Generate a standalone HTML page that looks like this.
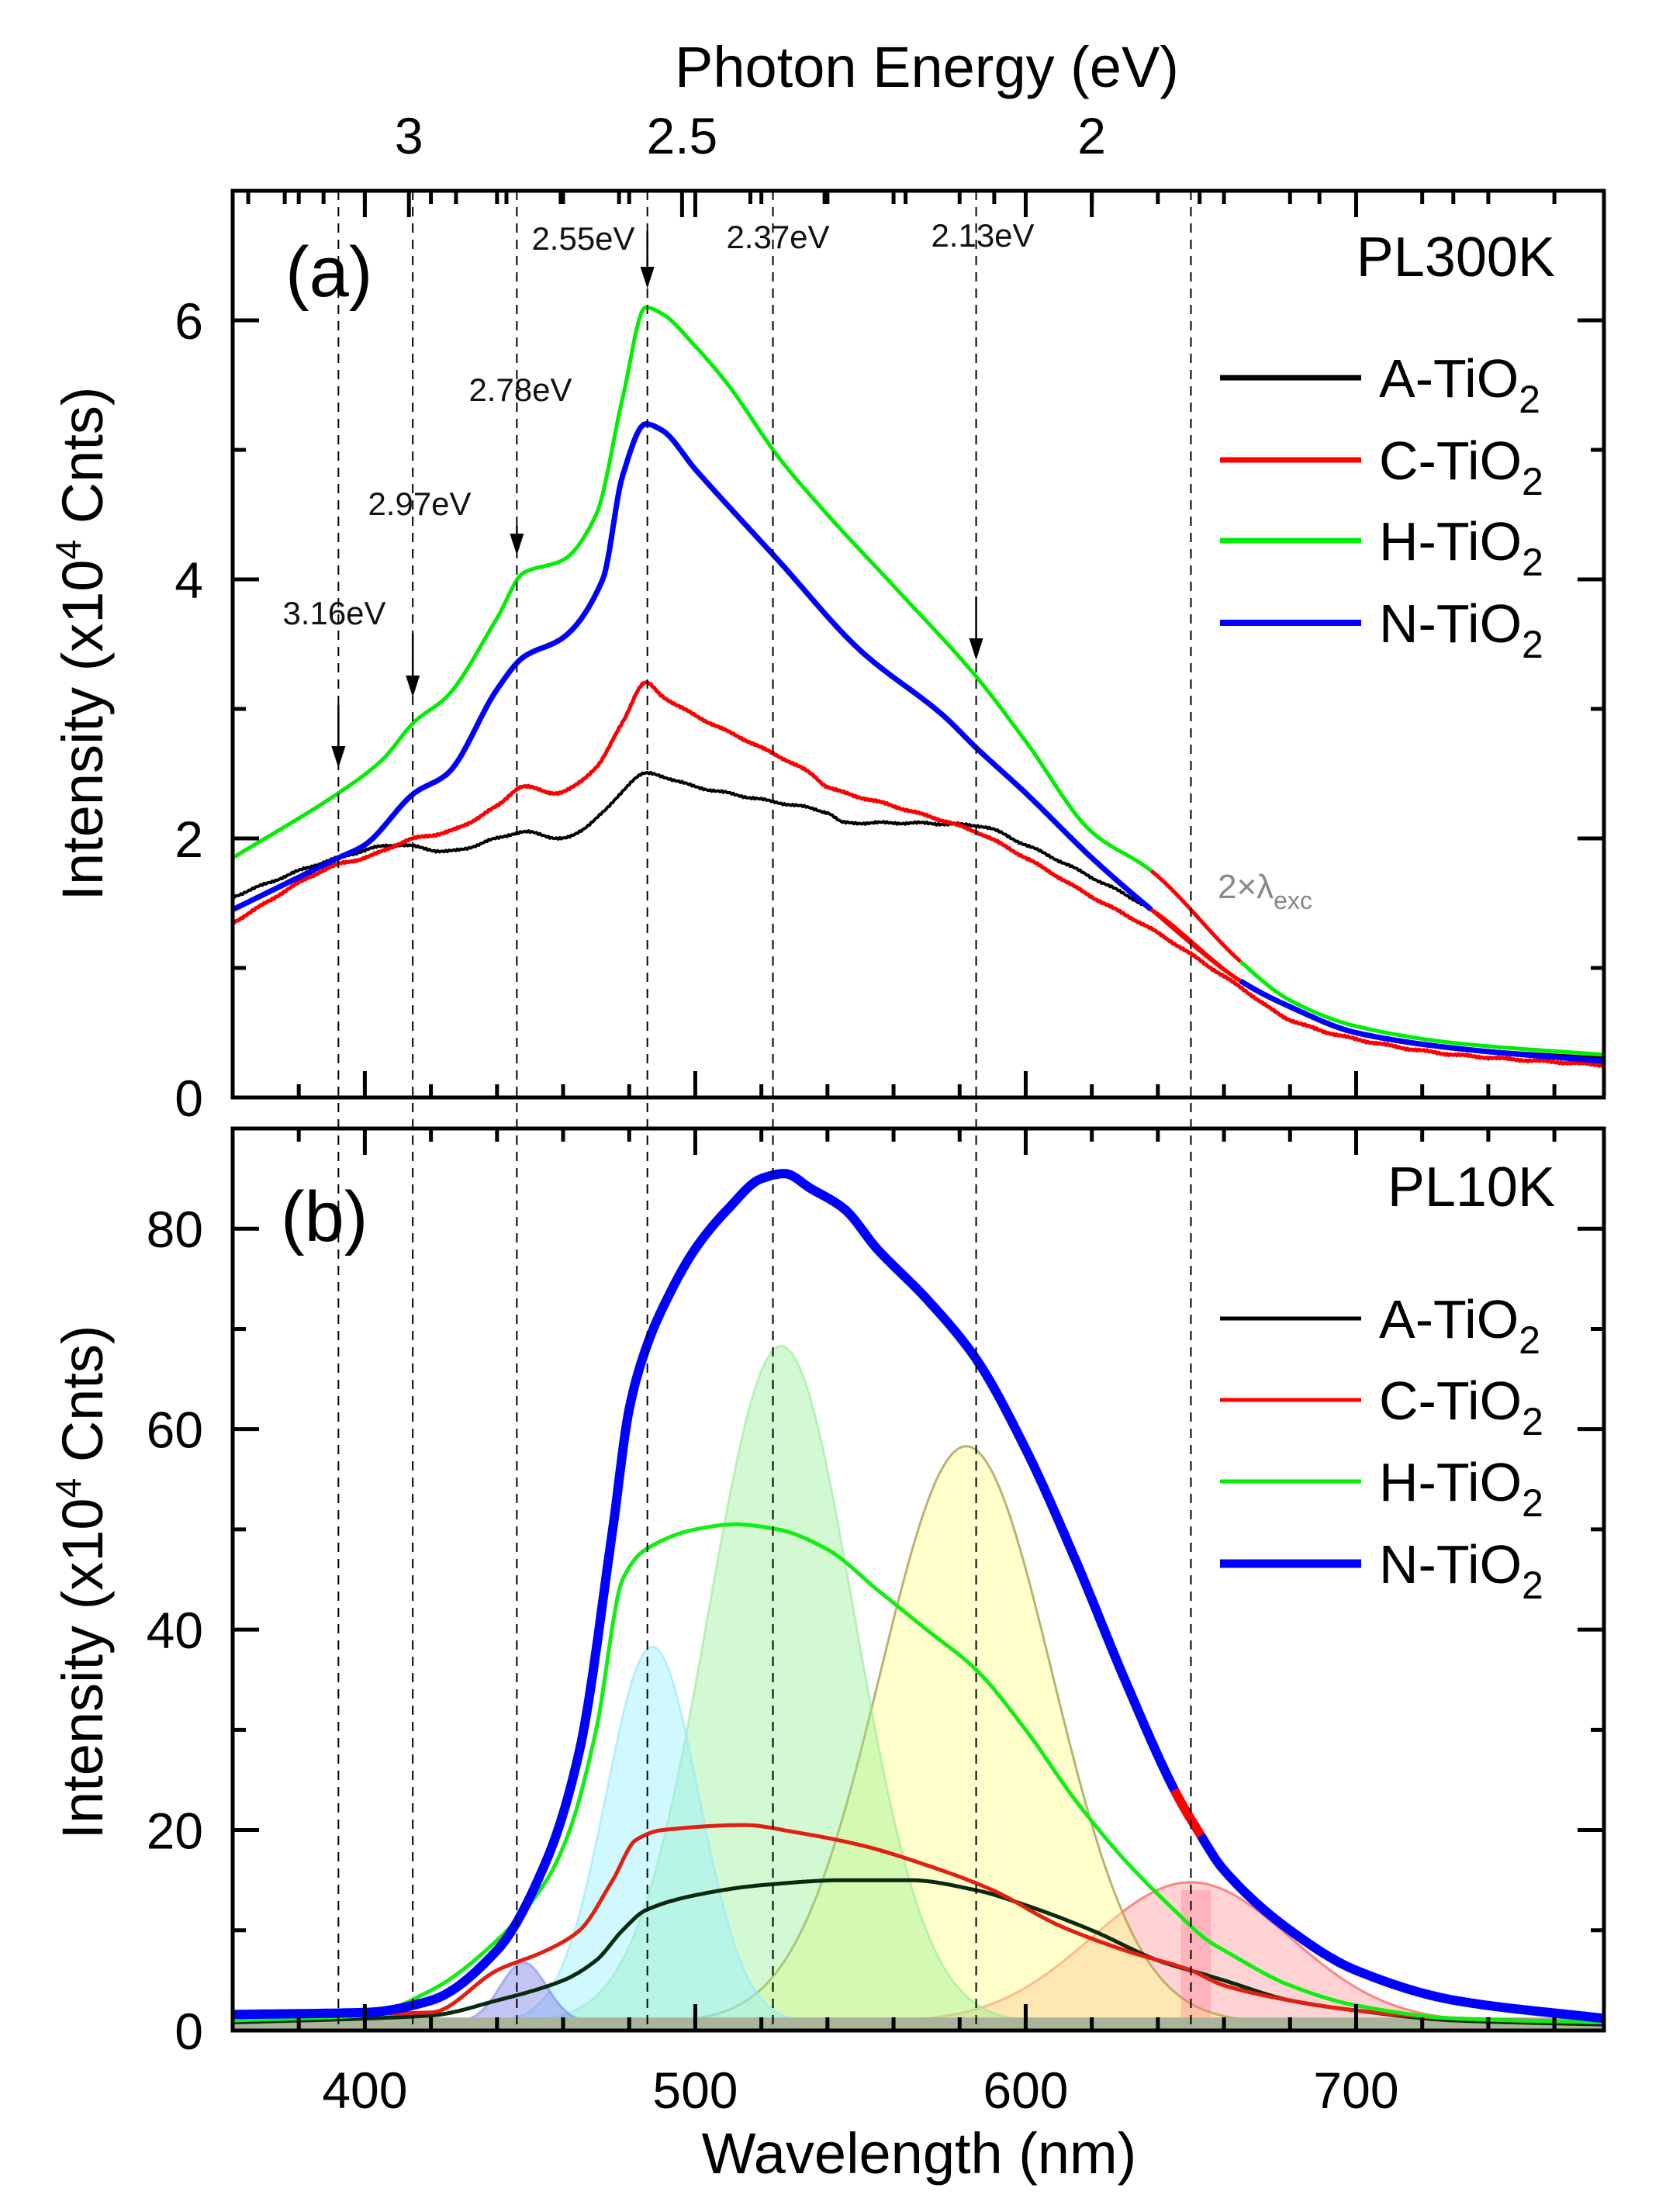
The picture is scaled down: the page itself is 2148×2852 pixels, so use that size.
<!DOCTYPE html>
<html><head><meta charset="utf-8"><style>
html,body{margin:0;padding:0;background:#fff}
svg{display:block}
text{font-family:"Liberation Sans",Arial,sans-serif}
</style></head><body>
<svg id="s" width="2148" height="2852" viewBox="0 0 2148 2852" xmlns="http://www.w3.org/2000/svg">
<rect width="2148" height="2852" fill="#fff"/>
<g id="g"></g>
</svg>
<script>
const NS="http://www.w3.org/2000/svg";
const g=document.getElementById('g');
function el(t,a,txt){const e=document.createElementNS(NS,t);for(const k in a)e.setAttribute(k,a[k]);if(txt!==undefined)e.textContent=txt;g.appendChild(e);return e;}
const XL=300,XR=2068;
const X=w=>XL+(w-360)*(XR-XL)/(775-360);
const AT=246,AB=1415,Ya=v=>AB-v*(AB-AT)/7;
const BT=1455,BB=2618,Yb=v=>BB-v*(BB-BT)/90;

function slope(p,i){const n=p.length;if(i===0)return (p[1][1]-p[0][1])/(p[1][0]-p[0][0]);if(i===n-1)return (p[n-1][1]-p[n-2][1])/(p[n-1][0]-p[n-2][0]);
const a=(p[i][1]-p[i-1][1])/(p[i][0]-p[i-1][0]),b=(p[i+1][1]-p[i][1])/(p[i+1][0]-p[i][0]);if(a*b<=0)return 0;return 2/(1/a+1/b);}
function interp(p,w){for(let i=0;i<p.length-1;i++){if(w>=p[i][0]&&w<=p[i+1][0]){const h=p[i+1][0]-p[i][0],t=(w-p[i][0])/h;const m0=slope(p,i)*h,m1=slope(p,i+1)*h;const t2=t*t,t3=t2*t;
return (2*t3-3*t2+1)*p[i][1]+(t3-2*t2+t)*m0+(-2*t3+3*t2)*p[i+1][1]+(t3-t2)*m1;}}return p[p.length-1][1];}
function curve(pts,Y,w0,w1,col,sw,noise){let d='';for(let w=w0;w<=w1+1e-9;w+=0.5){let v=interp(pts,w);if(noise)v+=(Math.sin(w*7.3)+Math.sin(w*13.1))*noise;d+=(d?'L':'M')+X(w).toFixed(1)+','+Y(v).toFixed(1);}el('path',{d:d,fill:'none',stroke:col,'stroke-width':sw,'stroke-linejoin':'round'});}

function gauss(c,a,s,fill,stroke){let d='M'+X(360)+','+Yb(0.8);for(let w=360;w<=775;w+=1){const v=0.8+a*Math.exp(-((w-c)**2)/(2*s*s));d+='L'+X(w).toFixed(1)+','+Yb(v).toFixed(1);}d+='L'+X(775)+','+Yb(0.8)+'Z';el('path',{d:d,fill:fill,stroke:stroke||'none','stroke-width':3});}
gauss(650,14,30,'rgba(255,130,130,0.35)','rgba(255,90,90,0.7)');
gauss(582,57.5,26,'rgba(255,255,140,0.45)','rgba(180,170,100,0.9)');
gauss(526,67.5,22,'rgba(140,240,140,0.38)','rgba(150,235,150,0.6)');
gauss(487,37.5,14,'rgba(150,240,255,0.45)','rgba(150,230,250,0.6)');
gauss(448,6,7,'rgba(110,110,230,0.4)','rgba(110,130,230,0.5)');
el('rect',{x:X(647),y:Yb(14),width:X(656)-X(647),height:Yb(0)-Yb(14),fill:'rgba(255,120,140,0.35)'});
el('rect',{x:XL,y:Yb(1.3),width:XR-XL,height:Yb(0)-Yb(1.3),fill:'rgb(170,180,155)'});

const bA=[[360,0.8],[420,1.5],[440,3],[460,5],[470,7],[478,10],[485,12],[500,13.5],[520,14.5],[545,15],[565,15],[585,14],[600,12.5],[620,10],[640,7],[655,5.5],[660,5],[680,3],[700,2],[730,1],[775,0.6]];
const bC=[[360,1.5],[420,1.8],[440,6],[455,8],[465,10],[475,15],[482,19],[490,20],[515,20.5],[530,19.8],[550,18.5],[570,16.5],[590,14],[610,10.5],[630,8],[650,6],[660,4.5],[680,3],[700,2],[730,1.2],[775,0.8]];
const bH=[[360,1],[400,1.5],[420,4],[440,9],[455,15],[462,20],[470,30],[478,45],[485,48],[500,50],[512,50.5],[525,50],[540,48],[555,44],[570,40],[585,36],[600,30],[615,23],[630,17],[645,12],[655,9],[660,8],[680,4.5],[700,2.5],[730,1.2],[775,0.8]];
const bN=[[360,1.6],[400,1.8],[420,3],[440,8],[455,17],[465,28],[475,50],[480,62],[485,68],[490,72],[500,78],[510,82],[520,85],[527,85.5],[535,84],[545,82],[555,78],[570,73],[585,67],[600,58],[615,47],[630,35],[645,24],[652,20],[660,16],[680,10],[700,6],[730,3],[775,1.2]];
curve(bA,Yb,360,775,'#0a2a10',5);
curve(bC,Yb,360,775,'#e02010',5);
curve(bH,Yb,360,775,'#11ee11',5);
curve(bN,Yb,360,645,'#0000ff',12);
curve(bN,Yb,645,653,'#ff0000',12);
curve(bN,Yb,653,775,'#0000ff',12);

const aH=[[360,1.85],[392,2.35],[405,2.6],[415,2.9],[425,3.1],[440,3.7],[448,4.05],[460,4.15],[470,4.5],[478,5.4],[485,6.1],[490,6.05],[500,5.8],[510,5.5],[525,4.95],[540,4.5],[560,3.95],[585,3.25],[600,2.75],[620,2.05],[638,1.75],[665,1.05],[680,0.75],[700,0.55],[730,0.42],[775,0.33]];
const aN=[[360,1.45],[392,1.85],[400,1.95],[415,2.35],[425,2.5],[440,3.15],[448,3.4],[460,3.55],[472,4.0],[478,4.8],[485,5.2],[490,5.15],[500,4.85],[525,4.15],[550,3.45],[575,2.95],[585,2.7],[600,2.35],[620,1.85],[638,1.45],[665,0.9],[680,0.7],[700,0.5],[730,0.38],[775,0.28]];
const aC=[[360,1.35],[392,1.8],[400,1.85],[415,2.0],[425,2.05],[440,2.25],[448,2.4],[458,2.35],[470,2.55],[478,2.9],[485,3.2],[490,3.1],[500,2.95],[520,2.7],[535,2.5],[540,2.4],[560,2.25],[585,2.05],[600,1.85],[620,1.55],[638,1.3],[665,0.85],[680,0.6],[700,0.45],[730,0.33],[775,0.25]];
const aA=[[360,1.55],[392,1.85],[410,1.95],[425,1.9],[440,2.0],[448,2.05],[460,2.0],[472,2.2],[485,2.5],[500,2.4],[520,2.3],[540,2.2],[545,2.12],[560,2.12],[585,2.1],[600,1.95],[620,1.7],[638,1.45],[665,0.9],[680,0.7],[700,0.5],[730,0.38],[775,0.3]];
curve(aA,Ya,360,638,'#000',4,0.006);curve(aA,Ya,665,775,'#000',5);
curve(aC,Ya,360,775,'#ff0000',5,0.005);
curve(aN,Ya,360,638,'#0000ff',7);curve(aN,Ya,665,775,'#0000ff',7);
curve(aH,Ya,360,638,'#00ee00',5);curve(aH,Ya,665,775,'#00ee00',5);
curve(aH,Ya,638,665,'#ff0000',5);curve(aN,Ya,638,665,'#ff0000',5);curve(aA,Ya,638,665,'#ff0000',5);

[392,414.5,446,485.5,523.5,585,650].forEach(w=>{el('line',{x1:X(w),y1:AT,x2:X(w),y2:BB,stroke:'#000','stroke-width':2,'stroke-dasharray':'12,9'});});

function arrow(w,y1,y2){const x=X(w);el('line',{x1:x,y1:y1,x2:x,y2:y2-10,stroke:'#000','stroke-width':2.5});el('path',{d:`M${x-9},${y2-28}L${x+9},${y2-28}L${x},${y2}Z`,fill:'#000'});}
arrow(392,909,990);arrow(414.5,817,899);arrow(446,678,716);arrow(485.5,298,372);arrow(585,769,851);
const lab=[['3.16eV',431,805],['2.97eV',541,664],['2.78eV',671,517],['2.55eV',752,322],['2.37eV',1003,320],['2.13eV',1267,318]];
lab.forEach(l=>el('text',{x:l[1],y:l[2],'font-size':42,'text-anchor':'middle',fill:'#111'},l[0]));

function frame(T,B,yt){el('rect',{x:XL,y:T,width:XR-XL,height:B-T,fill:'none',stroke:'#000','stroke-width':5});
for(let w=380;w<=775;w+=20){const maj=(w%100===0);const L=maj?34:17;el('line',{x1:X(w),y1:B,x2:X(w),y2:B-L,stroke:'#000','stroke-width':5});el('line',{x1:X(w),y1:T,x2:X(w),y2:T+L,stroke:'#000','stroke-width':5});}
yt.forEach(t=>{const L=t[1]?34:17;el('line',{x1:XL,y1:t[0],x2:XL+L,y2:t[0],stroke:'#000','stroke-width':5});el('line',{x1:XR,y1:t[0],x2:XR-L,y2:t[0],stroke:'#000','stroke-width':5});});}
let ya=[];for(let v=1;v<7;v++)ya.push([Ya(v),v%2===0]);
let yb=[];for(let v=10;v<90;v+=10)yb.push([Yb(v),v%20===0]);
frame(AT,AB,ya);frame(BT,BB,yb);
for(let e=3.4;e>=1.6;e-=0.1){const w=1240/e;if(w<362||w>773)continue;const maj=Math.abs(e*2-Math.round(e*2))<0.01;el('line',{x1:X(w),y1:AT,x2:X(w),y2:AT+(maj?34:17),stroke:'#000','stroke-width':5});}

[[0,Ya(0)],[2,Ya(2)],[4,Ya(4)],[6,Ya(6)]].forEach(t=>el('text',{x:262,y:t[1]+24,'font-size':66,'text-anchor':'end'},t[0]));
[0,20,40,60,80].forEach(v=>el('text',{x:262,y:Yb(v)+24,'font-size':66,'text-anchor':'end'},v));
[400,500,600,700].forEach(w=>el('text',{x:X(w),y:2718,'font-size':66,'text-anchor':'middle'},w));
[[3,'3'],[2.5,'2.5'],[2,'2']].forEach(e=>el('text',{x:X(1240/e[0]),y:198,'font-size':66,'text-anchor':'middle'},e[1]));
el('text',{x:1195,y:112,'font-size':74,'text-anchor':'middle'},'Photon Energy (eV)');
el('text',{x:1185,y:2802,'font-size':74,'text-anchor':'middle'},'Wavelength (nm)');
function ytitle(cy){const t=el('text',{x:0,y:0,'font-size':74,'text-anchor':'middle',transform:`translate(132,${cy}) rotate(-90)`});t.innerHTML='Intensity (x10<tspan dy="-28" font-size="46">4</tspan><tspan dy="28"> Cnts)</tspan>';}
ytitle(830);ytitle(2040);
el('text',{x:368,y:382,'font-size':92},'(a)');
el('text',{x:362,y:1600,'font-size':92},'(b)');
el('text',{x:2005,y:356,'font-size':72,'text-anchor':'end'},'PL300K');
el('text',{x:2005,y:1555,'font-size':72,'text-anchor':'end'},'PL10K');
const t2=el('text',{x:1570,y:1158,'font-size':44,fill:'#888'});t2.innerHTML='2×λ<tspan dy="14" font-size="32">exc</tspan>';
function legend(ys,sws){const names=['A-TiO','C-TiO','H-TiO','N-TiO'],cols=['#000','#ff0000','#00ee00','#0000ff'];ys.forEach((y,i)=>{el('line',{x1:1573,y1:y,x2:1755,y2:y,stroke:cols[i],'stroke-width':sws[i]});const t=el('text',{x:1778,y:y+25,'font-size':70});t.innerHTML=names[i]+'<tspan dy="20" font-size="50">2</tspan>';});}
legend([487,593,697,803],[7,7,7,8]);
legend([1700,1805,1910,2016],[5,5,5,11]);
</script>
</body></html>
